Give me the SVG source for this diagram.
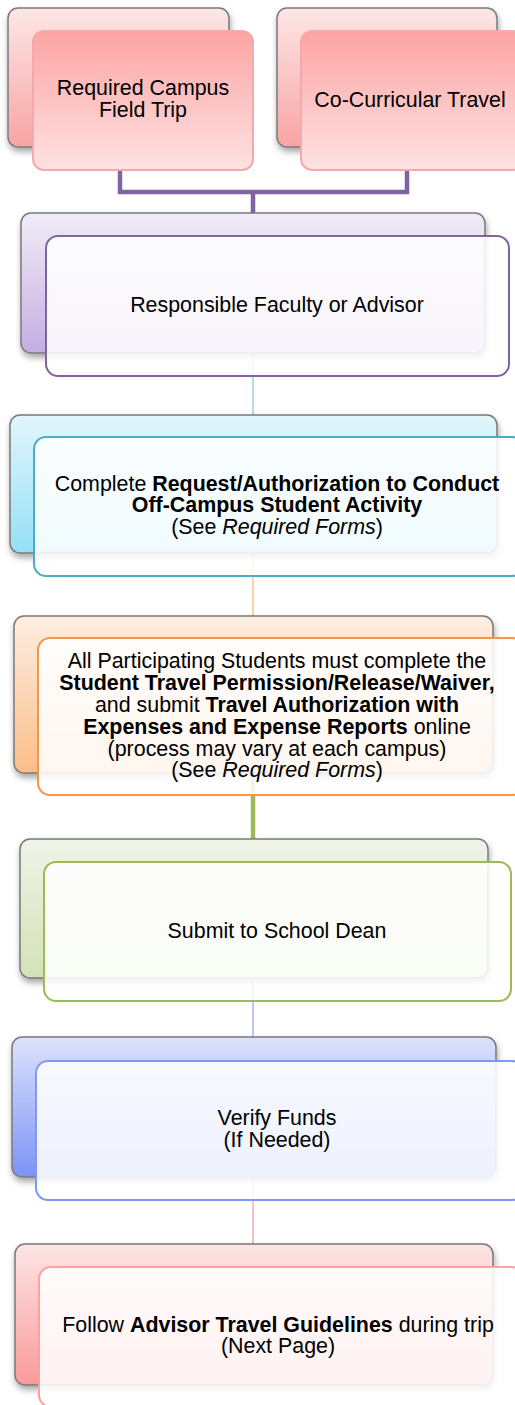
<svg xmlns="http://www.w3.org/2000/svg" width="515" height="1405" viewBox="0 0 515 1405">
<defs>
  <style>
    text { font-family: "Liberation Sans", Arial, sans-serif; font-size: 21.4px; fill: #000; }
    .b { font-weight: bold; }
    .i { font-style: italic; }
    .back { stroke: #7a7a7a; stroke-width: 1.5; filter: url(#sh); }
    .front { fill: #ffffff; fill-opacity: 0.87; stroke-width: 2; }
    .thin { fill: none; stroke-width: 1.2; }
    .thick { fill: none; stroke-width: 4.5; }
  </style>
  <filter id="sh" x="-10%" y="-10%" width="120%" height="130%">
    <feDropShadow dx="1" dy="4" stdDeviation="3" flood-color="#000" flood-opacity="0.35"/>
  </filter>
  <linearGradient id="gPinkBack" x1="0" y1="0" x2="0" y2="1">
    <stop offset="0" stop-color="#fde6e6"/><stop offset="1" stop-color="#f8a4a4"/>
  </linearGradient>
  <linearGradient id="gPinkFront" x1="0" y1="0" x2="0" y2="1">
    <stop offset="0" stop-color="#fda4a4"/><stop offset="1" stop-color="#fde2e2"/>
  </linearGradient>
  <linearGradient id="gLav" x1="0" y1="0" x2="0" y2="1">
    <stop offset="0" stop-color="#f1ecf8"/><stop offset="1" stop-color="#c4afe1"/>
  </linearGradient>
  <linearGradient id="gCyan" x1="0" y1="0" x2="0" y2="1">
    <stop offset="0" stop-color="#e2f6fc"/><stop offset="1" stop-color="#94e0f5"/>
  </linearGradient>
  <linearGradient id="gPeach" x1="0" y1="0" x2="0" y2="1">
    <stop offset="0" stop-color="#fdeee2"/><stop offset="1" stop-color="#fbbd88"/>
  </linearGradient>
  <linearGradient id="gGreen" x1="0" y1="0" x2="0" y2="1">
    <stop offset="0" stop-color="#eff4e8"/><stop offset="1" stop-color="#d3e2b5"/>
  </linearGradient>
  <linearGradient id="gBlue" x1="0" y1="0" x2="0" y2="1">
    <stop offset="0" stop-color="#dde2fb"/><stop offset="1" stop-color="#7b93f7"/>
  </linearGradient>
  <linearGradient id="gPink2" x1="0" y1="0" x2="0" y2="1">
    <stop offset="0" stop-color="#fde5e5"/><stop offset="1" stop-color="#f99a9a"/>
  </linearGradient>
</defs>
<rect width="515" height="1405" fill="#ffffff"/>

<g id="connectors">
  <path class="thick" stroke="#8064a2" d="M120,170 V192 H407 V170 M253,192 V214"/>
  <path class="thin" stroke="#7cc4d8" d="M253,353 V415"/>
  <path class="thin" stroke="#f7b07a" d="M253,553 V616"/>
  <path class="thick" stroke="#9bbb59" d="M253,773 V839"/>
  <path class="thin" stroke="#8da0f5" d="M253,978 V1037"/>
  <path class="thin" stroke="#f09a9a" d="M253,1177 V1244"/>
</g>

<g id="node-field-trip">
  <rect class="back" x="8" y="8" width="221" height="139" rx="10" fill="url(#gPinkBack)"/>
  <rect x="33" y="31" width="220" height="139" rx="11" fill="url(#gPinkFront)" stroke="#f7a8a8" stroke-width="2"/>
  <text x="143" y="95" text-anchor="middle">Required Campus</text>
  <text x="143" y="117" text-anchor="middle">Field Trip</text>
</g>

<g id="node-co-curricular">
  <rect class="back" x="277" y="8" width="220" height="139" rx="10" fill="url(#gPinkBack)"/>
  <rect x="301" y="31" width="222" height="139" rx="11" fill="url(#gPinkFront)" stroke="#f7a8a8" stroke-width="2"/>
  <text x="410" y="107" text-anchor="middle">Co-Curricular Travel</text>
</g>

<g id="node-faculty">
  <rect class="back" x="21" y="213" width="464" height="140" rx="10" fill="url(#gLav)"/>
  <rect class="front" x="46" y="236" width="463" height="140" rx="12" stroke="#8064a2"/>
  <text x="277" y="312" text-anchor="middle">Responsible Faculty or Advisor</text>
</g>

<g id="node-request">
  <rect class="back" x="10" y="415" width="487" height="138" rx="10" fill="url(#gCyan)"/>
  <rect class="front" x="34" y="437" width="490" height="139" rx="12" stroke="#4bacc6"/>
  <text x="277" y="491" text-anchor="middle">Complete <tspan class="b">Request/Authorization to Conduct</tspan></text>
  <text x="277" y="512" text-anchor="middle" class="b">Off-Campus Student Activity</text>
  <text x="277" y="534" text-anchor="middle">(See <tspan class="i">Required Forms</tspan>)</text>
</g>

<g id="node-students">
  <rect class="back" x="14" y="616" width="479" height="157" rx="10" fill="url(#gPeach)"/>
  <rect class="front" x="38" y="638" width="486" height="157" rx="12" stroke="#f79646"/>
  <text x="277" y="668" text-anchor="middle">All Participating Students must complete the</text>
  <text x="277" y="690" text-anchor="middle" class="b">Student Travel Permission/Release/Waiver,</text>
  <text x="277" y="712" text-anchor="middle">and submit <tspan class="b">Travel Authorization with</tspan></text>
  <text x="277" y="734" text-anchor="middle"><tspan class="b">Expenses and Expense Reports</tspan> online</text>
  <text x="277" y="756" text-anchor="middle">(process may vary at each campus)</text>
  <text x="277" y="777" text-anchor="middle">(See <tspan class="i">Required Forms</tspan>)</text>
</g>

<g id="node-dean">
  <rect class="back" x="20" y="839" width="468" height="139" rx="10" fill="url(#gGreen)"/>
  <rect class="front" x="44" y="862" width="467" height="139" rx="12" stroke="#9bbb59"/>
  <text x="277" y="938" text-anchor="middle">Submit to School Dean</text>
</g>

<g id="node-funds">
  <rect class="back" x="12" y="1037" width="484" height="140" rx="10" fill="url(#gBlue)"/>
  <rect class="front" x="36" y="1061" width="488" height="139" rx="12" stroke="#7f97f7"/>
  <text x="277" y="1125" text-anchor="middle">Verify Funds</text>
  <text x="277" y="1147" text-anchor="middle">(If Needed)</text>
</g>

<g id="node-guidelines">
  <rect class="back" x="15" y="1244" width="478" height="141" rx="10" fill="url(#gPink2)"/>
  <rect class="front" x="39" y="1267" width="485" height="140" rx="12" stroke="#ff9f9f"/>
  <text x="278" y="1332" text-anchor="middle">Follow <tspan class="b">Advisor Travel Guidelines</tspan> during trip</text>
  <text x="278" y="1353" text-anchor="middle">(Next Page)</text>
</g>
</svg>
